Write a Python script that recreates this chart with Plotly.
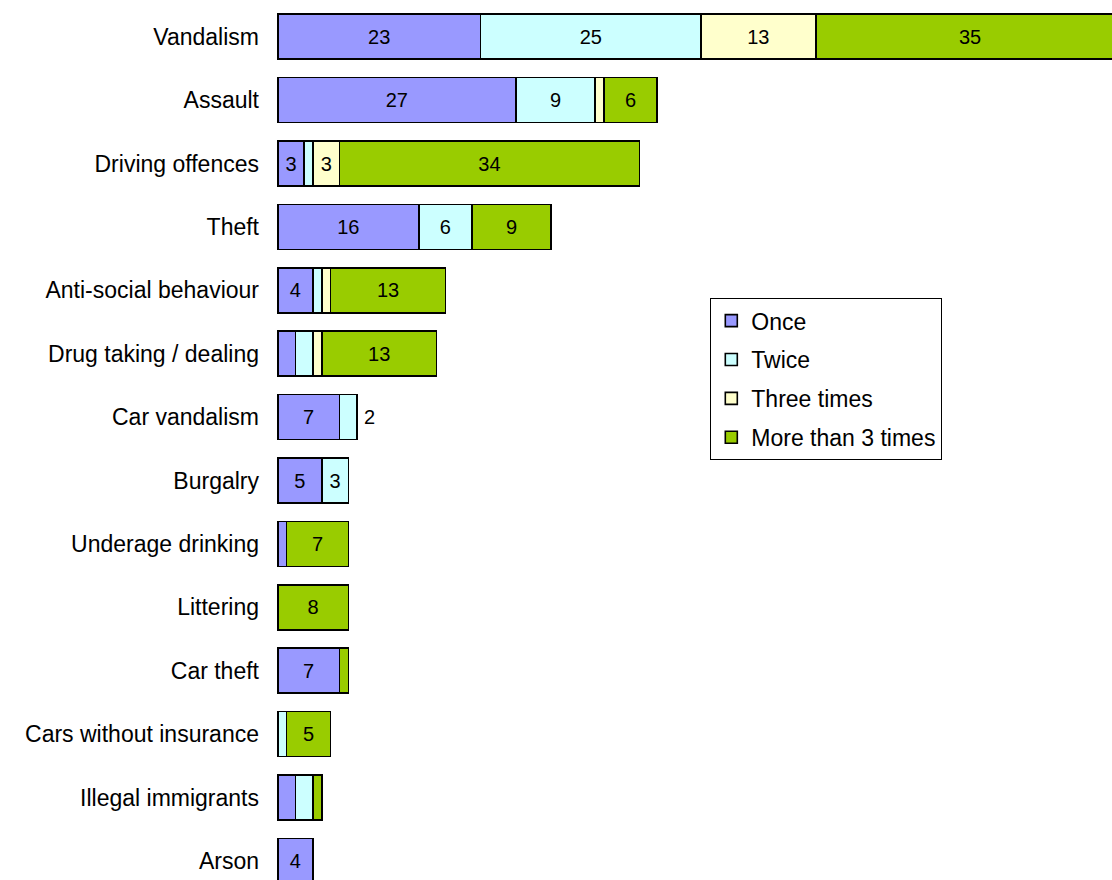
import plotly.graph_objects as go

categories = ["Vandalism", "Assault", "Driving offences", "Theft", "Anti-social behaviour",
              "Drug taking / dealing", "Car vandalism", "Burgalry", "Underage drinking",
              "Littering", "Car theft", "Cars without insurance", "Illegal immigrants", "Arson"]

once = [23, 27, 3, 16, 4, 2, 7, 5, 1, 0, 7, 0, 2, 4]
twice = [25, 9, 1, 6, 1, 2, 2, 3, 0, 0, 0, 1, 2, 0]
three_times = [13, 1, 3, 0, 1, 1, 0, 0, 0, 0, 0, 0, 0, 0]
more_than_3 = [35, 6, 34, 9, 13, 13, 0, 0, 7, 8, 1, 5, 1, 0]

series_names = ["Once", "Twice", "Three times", "More than 3 times"]
series_colors = ["#9999FF", "#CCFFFF", "#FFFFCC", "#99CC00"]
series_values = [once, twice, three_times, more_than_3]

# labels placed outside the stack (category -> series index)
outside_labels = {"Car vandalism": 1}

FONT = "Liberation Sans, Arial, sans-serif"

fig = go.Figure()
for idx, (name, color, vals) in enumerate(zip(series_names, series_colors, series_values)):
    texts = []
    for cat, v in zip(categories, vals):
        if v >= 3 and outside_labels.get(cat) != idx:
            texts.append(str(v))
        else:
            texts.append("")
    fig.add_trace(go.Bar(
        name=name, y=categories, x=vals, orientation="h",
        marker=dict(color=color, line=dict(color="#000000", width=1.6)),
        text=texts, textposition="inside", insidetextanchor="middle",
        constraintext="none",
        textfont=dict(family=FONT, size=20, color="#000000"),
        legendgroup=name,
    ))

# outside labels as annotations anchored at the stack end
for cat, sidx in outside_labels.items():
    i = categories.index(cat)
    total = sum(s[i] for s in series_values)
    fig.add_annotation(
        x=total, y=cat, xref="x", yref="y", text=str(series_values[sidx][i]),
        showarrow=False, xanchor="left", yanchor="middle", xshift=5,
        font=dict(family=FONT, size=20, color="#000000"),
    )

fig.update_layout(
    width=1112, height=880,
    barmode="stack", bargap=0.29,
    plot_bgcolor="white", paper_bgcolor="white",
    margin=dict(l=276, r=0, t=5, b=0),
    font=dict(family=FONT, size=22, color="#000000"),
    legend=dict(
        x=0.5195, y=0.665, xanchor="left", yanchor="top",
        bordercolor="#000000", borderwidth=1, bgcolor="white",
        font=dict(family=FONT, size=23, color="#000000"),
        tracegroupgap=6,
    ),
    showlegend=True,
)
fig.update_xaxes(range=[-0.2, 94.6], showticklabels=False, showgrid=False,
                 zeroline=False, showline=False)
fig.update_yaxes(type="category", categoryorder="array", categoryarray=categories,
                 range=[13.3, -0.5], showgrid=False, zeroline=False, showline=False,
                 ticks="", ticklabelstandoff=16,
                 tickfont=dict(family=FONT, size=23, color="#000000"))

fig.write_html("out.html")
